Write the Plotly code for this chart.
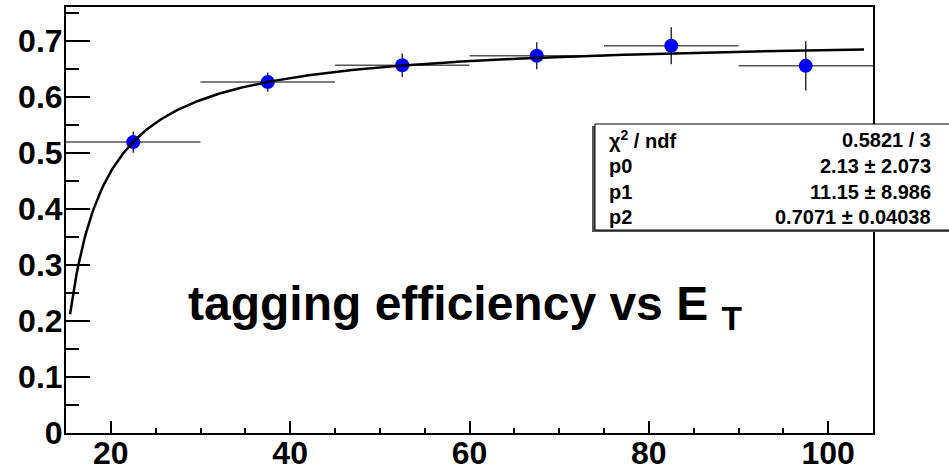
import numpy as np
import plotly.graph_objects as go

# Binned tagging efficiency vs transverse energy
et_centers = [22.5, 37.5, 52.5, 67.5, 82.5, 97.5]
et_halfwidth = [7.5, 7.5, 7.5, 7.5, 7.5, 7.5]
efficiency = [0.519, 0.626, 0.656, 0.673, 0.691, 0.655]
eff_err = [0.019, 0.017, 0.021, 0.024, 0.033, 0.044]

# Fit results: f(x) = p2 - p0 / (x - p1)
chi2_ndf = "0.5821 / 3"
p0, p0_err = 2.13, 2.073
p1, p1_err = 11.15, 8.986
p2, p2_err = 0.7071, 0.04038
fit_range = (15.45, 104.0)

stat_labels = ["χ<sup>2</sup> / ndf", "p0", "p1", "p2"]
stat_values = [chi2_ndf,
               f"{p0} ± {p0_err}",
               f"{p1} ± {p1_err}",
               f"{p2} ± {p2_err}"]

W, H = 949, 470
ML, MR, MT, MB = 66, 76, 7, 37
PW, PH = W - ML - MR, H - MT - MB


def px_x(p):
    return (p - ML) / PW


def px_y(p):
    return (H - MB - p) / PH


FONT = "Liberation Sans, Arial, Helvetica, sans-serif"

fig = go.Figure()

fig.add_trace(go.Scatter(
    x=et_centers, y=efficiency, mode="markers",
    marker=dict(color="#0000ff", size=14),
    error_x=dict(type="data", array=et_halfwidth, color="#555555",
                 thickness=1.5, width=0),
    error_y=dict(type="data", array=eff_err, color="#333333",
                 thickness=1.5, width=0),
    showlegend=False, hoverinfo="skip",
))

xf = np.linspace(fit_range[0], fit_range[1], 500)
yf = p2 - p0 / (xf - p1)
fig.add_trace(go.Scatter(
    x=xf, y=yf, mode="lines",
    line=dict(color="black", width=2.5),
    showlegend=False, hoverinfo="skip",
))

axis_common = dict(
    automargin=False,
    showgrid=False, zeroline=False, showline=True, linecolor="black",
    linewidth=2, mirror=True, ticks="inside", tickcolor="black",
    tickwidth=1.5,
    tickfont=dict(family=FONT, size=32, color="black", weight="bold"),
)

fig.update_xaxes(range=[15, 105], dtick=20, tick0=0, ticklen=12,
                 ticklabelstandoff=-9,
                 minor=dict(dtick=5, ticklen=5, ticks="inside",
                            tickcolor="black", tickwidth=1.5),
                 **axis_common)
fig.update_yaxes(range=[0, 0.76], dtick=0.1, tick0=0, ticklen=24,
                 ticklabelstandoff=-5,
                 minor=dict(dtick=0.05, ticklen=13, ticks="inside",
                            tickcolor="black", tickwidth=1.5),
                 **axis_common)

# Statistics box with a drop shadow
fig.add_shape(type="rect", xref="paper", yref="paper", layer="above",
              x0=px_x(592), x1=px_x(965), y0=px_y(232), y1=px_y(126),
              fillcolor="#555555", line=dict(width=0))
fig.add_shape(type="rect", xref="paper", yref="paper", layer="above",
              x0=px_x(595), x1=px_x(965), y0=px_y(230), y1=px_y(124),
              fillcolor="white", line=dict(color="black", width=1))

row_y = [140, 166, 192, 217]
for lab, val, ry in zip(stat_labels, stat_values, row_y):
    fig.add_annotation(xref="paper", yref="paper", x=px_x(607), y=px_y(ry),
                       xanchor="left", yanchor="middle", showarrow=False,
                       text=lab, font=dict(family=FONT, size=20, color="black",
                                           weight="bold"))
    fig.add_annotation(xref="paper", yref="paper", x=px_x(933), y=px_y(ry),
                       xanchor="right", yanchor="middle", showarrow=False,
                       text=val, font=dict(family=FONT, size=20, color="black",
                                           weight="bold"))

fig.add_annotation(xref="paper", yref="paper", x=px_x(186), y=px_y(307),
                   xanchor="left", yanchor="middle", showarrow=False,
                   text="tagging efficiency vs E <sub>T</sub>",
                   font=dict(family=FONT, size=48, color="black", weight="bold"))

fig.update_layout(
    width=W, height=H,
    margin=dict(l=ML, r=MR, t=MT, b=MB),
    paper_bgcolor="white", plot_bgcolor="white",
)

fig.write_html("out.html")
